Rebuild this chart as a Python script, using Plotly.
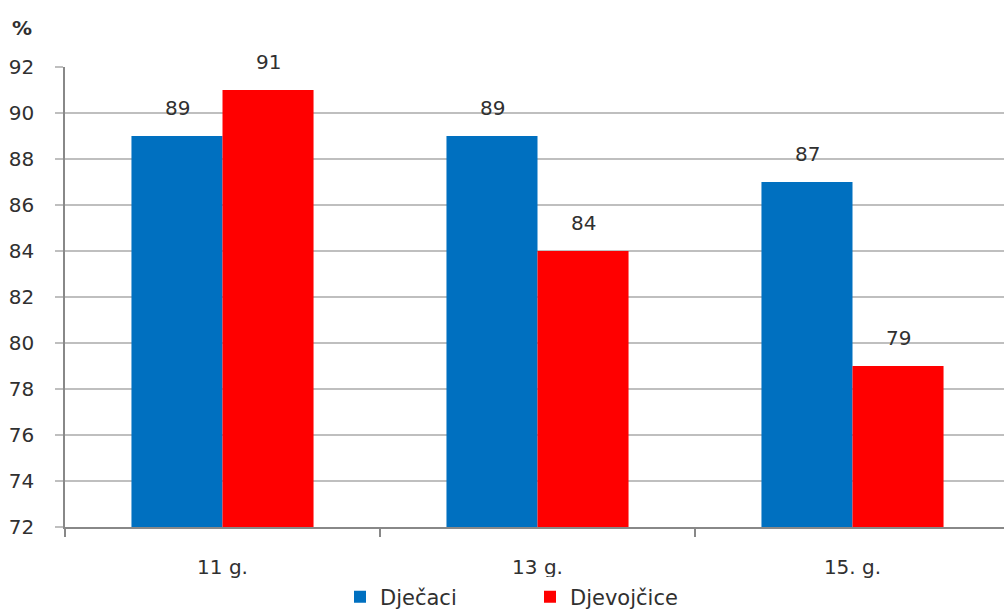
import plotly.graph_objects as go

categories = ["11 g.", "13 g.", "15. g."]
boys = [89, 89, 87]
girls = [91, 84, 79]
series_names = ["Dječaci", "Djevojčice"]
y_ticks = list(range(72, 93, 2))

BLUE = "#0070C0"
RED = "#FF0000"
FONT = "'DejaVu Sans', sans-serif"
TXT = "#303030"

L, T, W, H = 65, 67, 1004, 611
PW, PH = W - L, 460

fig = go.Figure()
fig.add_trace(go.Bar(x=categories, y=boys, name=series_names[0], marker=dict(color=BLUE, line=dict(width=0))))
fig.add_trace(go.Bar(x=categories, y=girls, name=series_names[1], marker=dict(color=RED, line=dict(width=0))))

annotations = []
for vals, shift in ((boys, -45.5), (girls, 45.5)):
    for c, v in zip(categories, vals):
        annotations.append(dict(x=c, y=v, xref="x", yref="y", text=str(v), showarrow=False,
                                xshift=shift, yanchor="bottom", yshift=14,
                                font=dict(family=FONT, size=20, color=TXT)))
annotations.append(dict(x=(22 - L) / PW, y=(T + PH - 28) / PH, xref="paper", yref="paper", text="<b>%</b>",
                        showarrow=False, xanchor="center", yanchor="middle",
                        font=dict(family=FONT, size=20, color=TXT)))

fig.update_layout(
    width=W, height=H,
    margin=dict(l=L, r=0, t=T, b=H - T - PH, autoexpand=False),
    paper_bgcolor="white", plot_bgcolor="white",
    barmode="group", bargap=0.422, bargroupgap=0,
    font=dict(family=FONT, size=20, color=TXT),
    showlegend=True,
    legend=dict(orientation="h", x=(340 - L) / PW, xanchor="left", y=-(597 - T - PH) / PH, yanchor="middle",
                font=dict(size=21), itemwidth=30, traceorder="normal",
                entrywidthmode="pixels", entrywidth=145),
    annotations=annotations,
)
fig.update_xaxes(
    range=[-0.5, -0.5 + PW / 315], automargin=False,
    showline=True, linecolor="#888888", linewidth=1.5,
    ticks="outside", tickson="boundaries", ticklen=8, tickcolor="#888888", tickwidth=1.5,
    showgrid=False, tickfont=dict(size=20), ticklabelstandoff=21,
)
fig.update_yaxes(
    range=[72, 92], tickvals=y_ticks, automargin=False,
    showline=True, linecolor="#888888", linewidth=1.5,
    ticks="outside", ticklen=8, tickcolor="#BFBFBF", tickwidth=2,
    showgrid=True, gridcolor="#BFBFBF", gridwidth=2,
    zeroline=False, tickfont=dict(size=20), ticklabelstandoff=17,
)
fig.write_html("out.html", config={"displayModeBar": False},
               post_script="document.body.style.margin='0';document.body.style.overflow='hidden';")
